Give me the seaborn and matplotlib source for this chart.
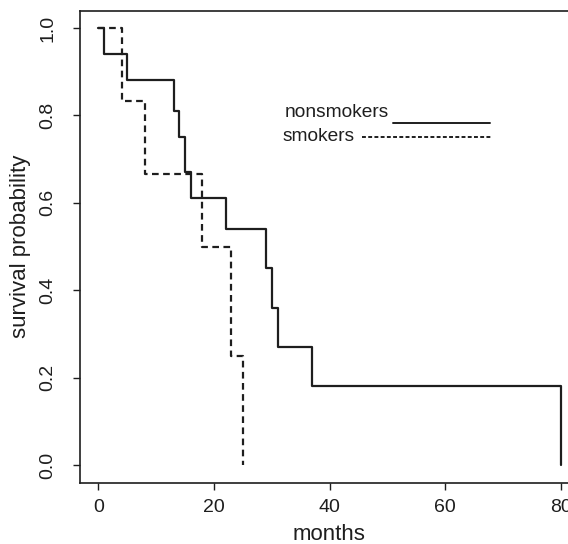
import matplotlib
matplotlib.use('Agg')
import matplotlib.pyplot as plt
import seaborn as sns

# Kaplan-Meier estimates
nonsmoker_months = [0, 1, 5, 13, 14, 15, 16, 22, 29, 30, 31, 37, 80]
nonsmoker_surv = [1.0, 0.94, 0.88, 0.81, 0.75, 0.67, 0.61, 0.54, 0.45, 0.36, 0.27, 0.18, 0.0]

smoker_months = [0, 4, 8, 18, 23, 25]
smoker_surv = [1.0, 0.833, 0.667, 0.5, 0.25, 0.0]

x_ticks = [0, 20, 40, 60, 80]
y_ticks = [0.0, 0.2, 0.4, 0.6, 0.8, 1.0]

sns.set_style('white')
plt.rcParams['font.family'] = ['Liberation Sans', 'DejaVu Sans']

fig = plt.figure(figsize=(5.68, 5.44), dpi=100)
# plot box runs past the right edge of the scanned figure
ax = fig.add_axes([80 / 568, 61.5 / 544, 499 / 568, 472 / 544])

line_col = '#1e1e1e'
sns.lineplot(x=nonsmoker_months, y=nonsmoker_surv, drawstyle='steps-post',
             estimator=None, sort=False, color=line_col, linewidth=1.6, ax=ax)
sns.lineplot(x=smoker_months, y=smoker_surv, drawstyle='steps-post',
             estimator=None, sort=False, color=line_col, linewidth=1.6,
             linestyle=(0, (3, 2)), ax=ax)

ax.set_xlim(-3.2, 83.2)
ax.set_ylim(-0.04, 1.04)
ax.set_xticks(x_ticks)
ax.set_xticklabels([str(t) for t in x_ticks])
ax.set_yticks(y_ticks)
ax.set_yticklabels(['%.1f' % t for t in y_ticks], rotation=90, va='center')

ax.tick_params(axis='both', direction='out', length=5, width=1,
               bottom=True, left=True, top=False, right=False,
               color=line_col, labelsize=14, labelcolor='#1e1e1e')
ax.tick_params(axis='x', pad=7)
ax.tick_params(axis='y', pad=12)
for sp in ax.spines.values():
    sp.set_color(line_col)
    sp.set_linewidth(1.2)

ax.set_xlabel('months', fontsize=16, color='#1e1e1e', labelpad=6)
ax.set_ylabel('survival probability', fontsize=16, color='#1e1e1e', labelpad=6)

# hand-drawn legend: label first, line sample after
ax.text(0.411, 0.783, 'nonsmokers', transform=ax.transAxes, fontsize=13.8,
        va='center', ha='left', color='#1e1e1e')
ax.plot([0.627, 0.822], [0.762, 0.762], transform=ax.transAxes,
        color=line_col, linewidth=1.4)
ax.text(0.405, 0.733, 'smokers', transform=ax.transAxes, fontsize=13.8,
        va='center', ha='left', color='#1e1e1e')
ax.plot([0.565, 0.826], [0.732, 0.732], transform=ax.transAxes,
        color=line_col, linewidth=1.4, linestyle=(0, (2, 1.2)))

fig.savefig('out.png', dpi=100)
plt.close(fig)
